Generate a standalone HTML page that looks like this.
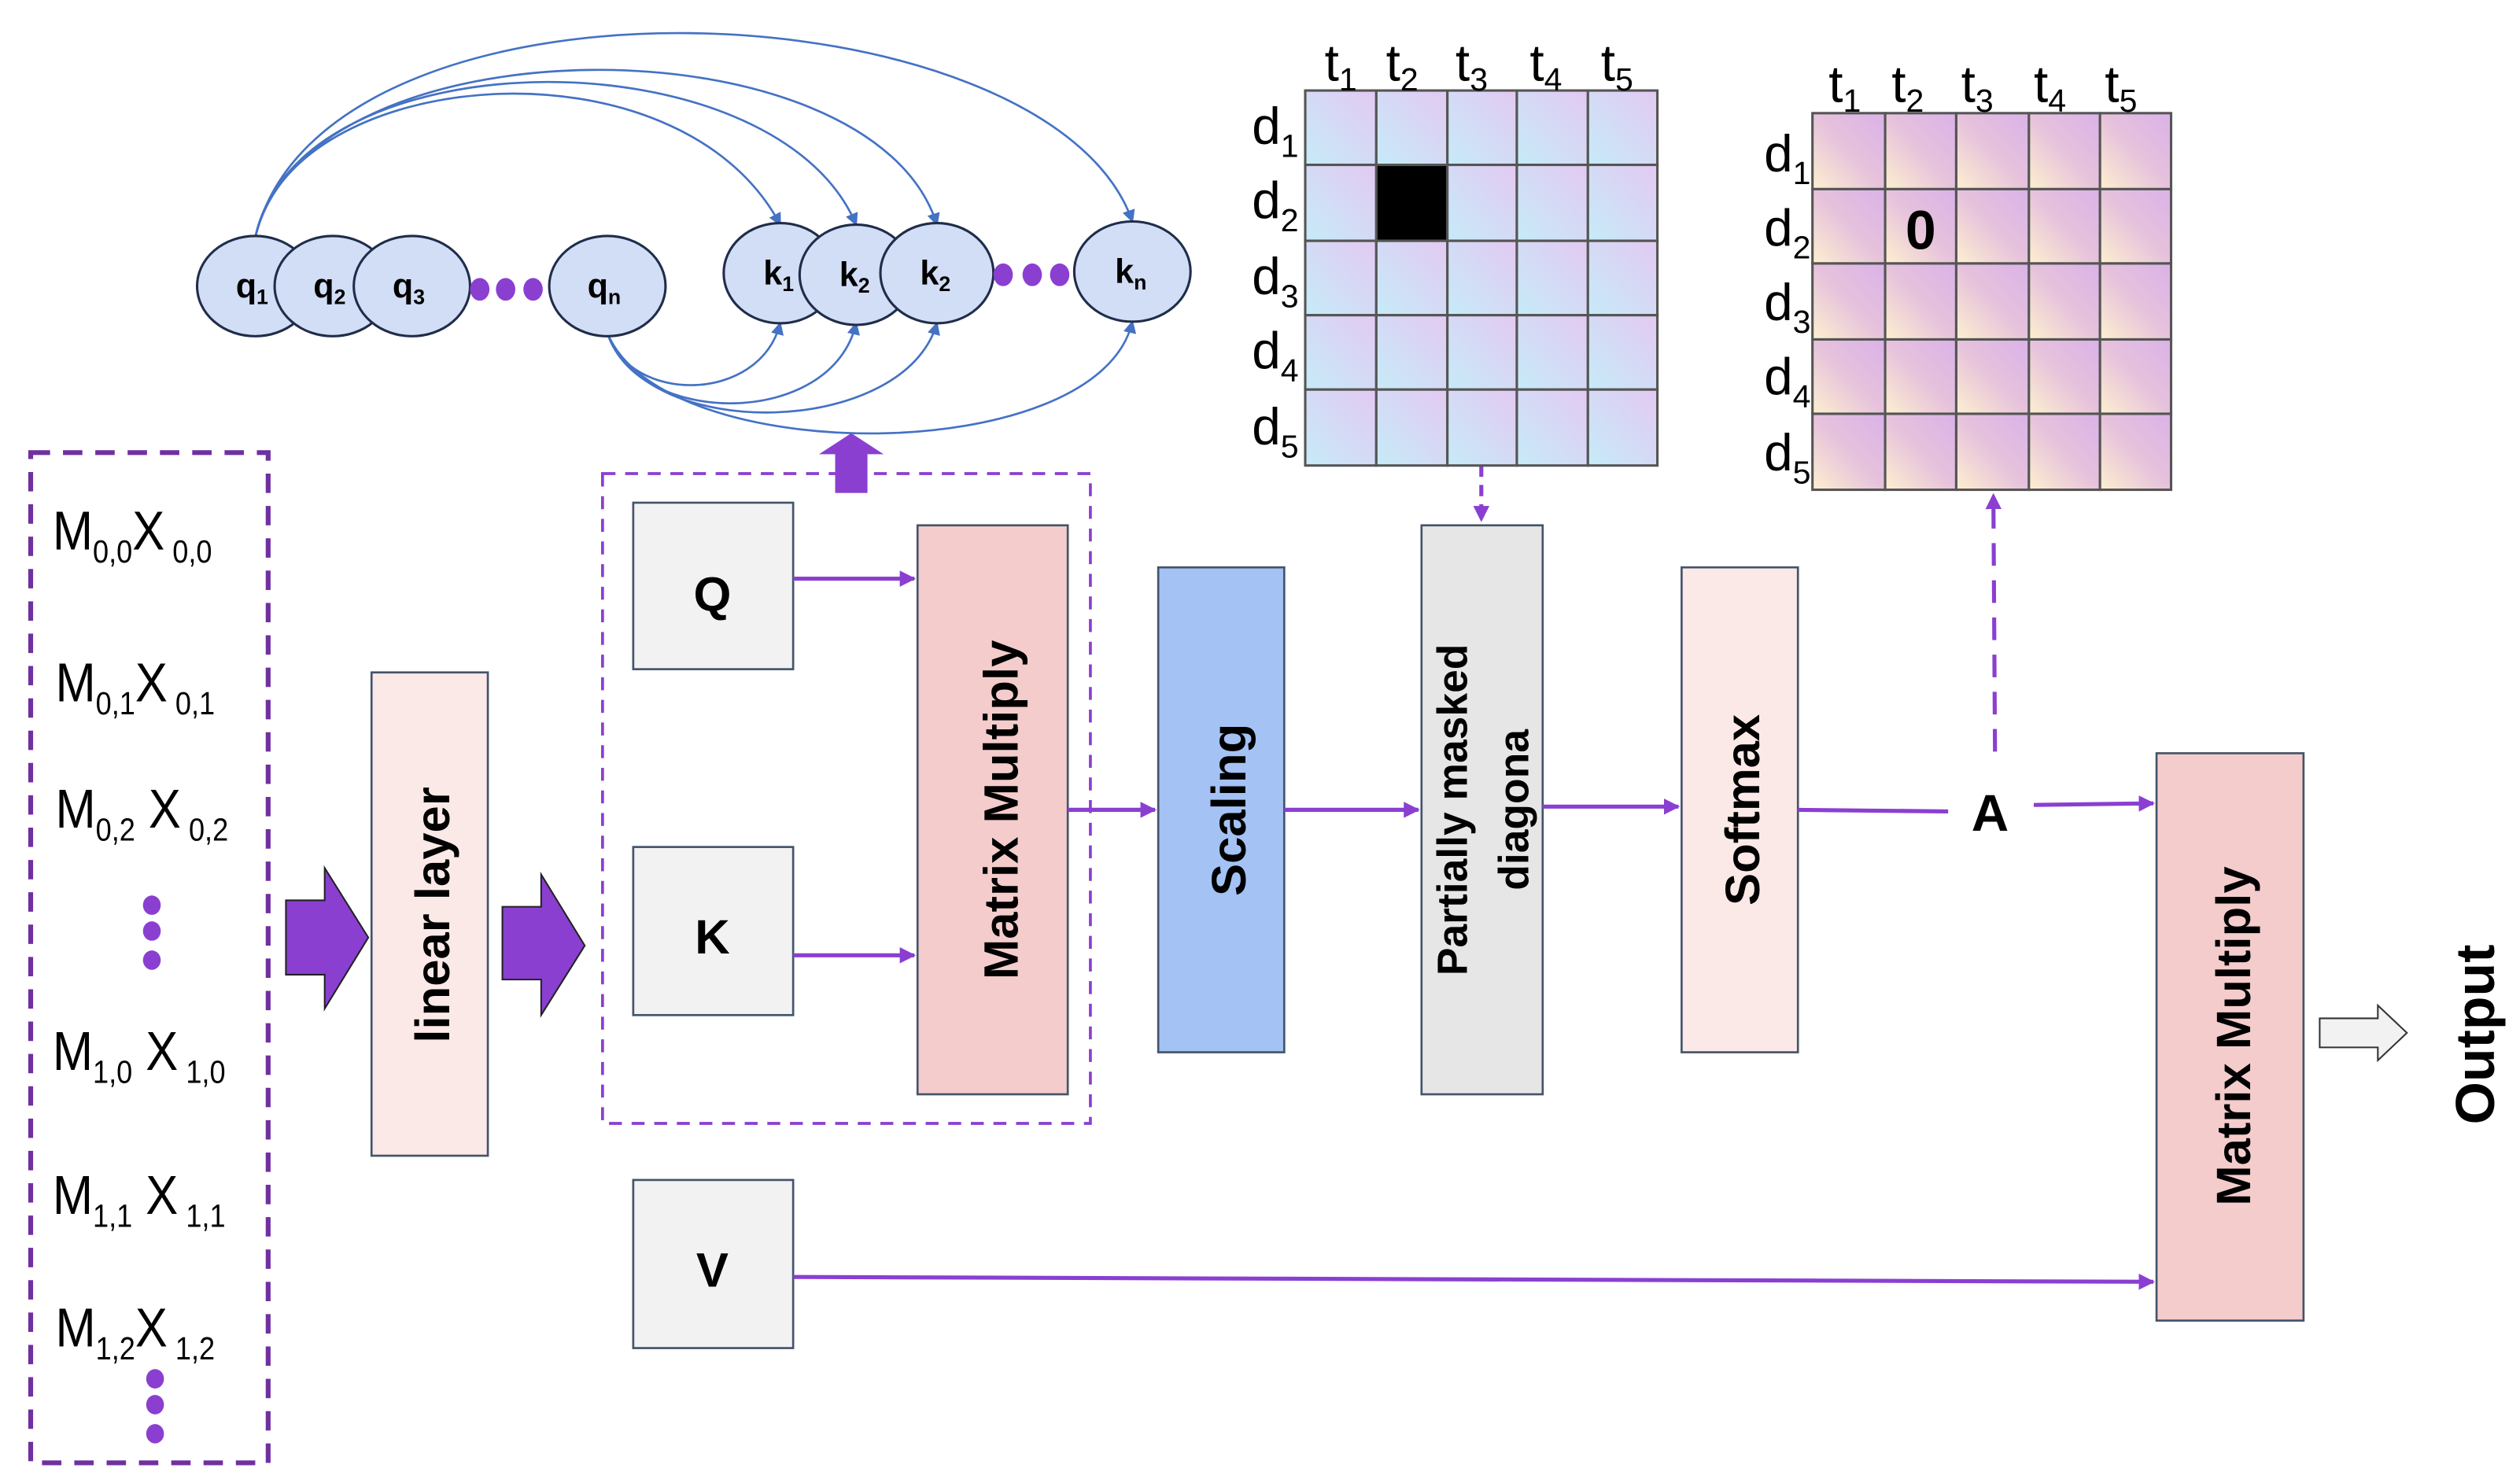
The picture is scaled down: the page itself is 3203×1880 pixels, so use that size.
<!DOCTYPE html>
<html><head><meta charset="utf-8"><style>html,body{margin:0;padding:0;background:#fff}svg{display:block}</style></head>
<body>
<svg width="3203" height="1880" viewBox="0 0 1560 915" preserveAspectRatio="none" xmlns="http://www.w3.org/2000/svg" font-family="Liberation Sans, sans-serif">
<defs>
<linearGradient id="g1" x1="0" y1="1" x2="1" y2="0"><stop offset="0" stop-color="#c6ebf8"/><stop offset="1" stop-color="#e3c9f2"/></linearGradient>
<linearGradient id="g2" x1="0" y1="1" x2="1" y2="0"><stop offset="0" stop-color="#fdf0cf"/><stop offset="0.5" stop-color="#e6c2dc"/><stop offset="1" stop-color="#dab2e8"/></linearGradient>
<marker id="ab" markerWidth="8" markerHeight="8" refX="7" refY="4" orient="auto" markerUnits="userSpaceOnUse"><path d="M0,0 L8,4 L0,8 z" fill="#4472c4"/></marker>
<marker id="ap" markerWidth="10" markerHeight="10" refX="9" refY="5" orient="auto" markerUnits="userSpaceOnUse"><path d="M0,0 L10,5 L0,10 z" fill="#8a3fd1"/></marker>
</defs>

<g fill="none" stroke="#4472c4" stroke-width="1.3">
<path d="M158,147 C180,40 420,20 483,139" marker-end="url(#ab)"/>
<path d="M158,147 C185,20 480,20 530,139" marker-end="url(#ab)"/>
<path d="M158,147 C190,10 540,10 580,139" marker-end="url(#ab)"/>
<path d="M158,147 C200,-30 650,-10 701,137" marker-end="url(#ab)"/>
<path d="M376,206 C390,250 470,250 483,200" marker-end="url(#ab)"/>
<path d="M376,206 C395,265 515,265 530,200" marker-end="url(#ab)"/>
<path d="M376,206 C400,275 560,270 580,200" marker-end="url(#ab)"/>
<path d="M376,206 C410,290 680,290 701,199" marker-end="url(#ab)"/>
</g>
<g fill="#d2ddf6" stroke="#1f2d4a" stroke-width="1.5">
<ellipse cx="158" cy="177" rx="36" ry="31"/>
<ellipse cx="206" cy="177" rx="36" ry="31"/>
<ellipse cx="255" cy="177" rx="36" ry="31"/>
<ellipse cx="376" cy="177" rx="36" ry="31"/>
<ellipse cx="483" cy="169" rx="35" ry="31"/>
<ellipse cx="530" cy="170" rx="35" ry="31"/>
<ellipse cx="580" cy="169" rx="35" ry="31"/>
<ellipse cx="701" cy="168" rx="36" ry="31"/>
</g>
<g fill="#8a3fd1">
<ellipse cx="297" cy="179" rx="6" ry="7"/><ellipse cx="313" cy="179" rx="6" ry="7"/><ellipse cx="330" cy="179" rx="6" ry="7"/>
<ellipse cx="621" cy="170" rx="6" ry="7"/><ellipse cx="639" cy="170" rx="6" ry="7"/><ellipse cx="656" cy="170" rx="6" ry="7"/>
</g>
<g font-weight="bold" font-size="21" text-anchor="middle" fill="#000">
<text x="156" y="184">q<tspan font-size="13" dy="4">1</tspan></text>
<text x="204" y="184">q<tspan font-size="13" dy="4">2</tspan></text>
<text x="253" y="184">q<tspan font-size="13" dy="4">3</tspan></text>
<text x="374" y="184">q<tspan font-size="13" dy="4">n</tspan></text>
<text x="482" y="176">k<tspan font-size="13" dy="4">1</tspan></text>
<text x="529" y="177">k<tspan font-size="13" dy="4">2</tspan></text>
<text x="579" y="176">k<tspan font-size="13" dy="4">2</tspan></text>
<text x="700" y="175">k<tspan font-size="13" dy="4">n</tspan></text>
</g>

<path d="M517,305 L517,281 L507,281 L527,268 L547,281 L537,281 L537,305 z" fill="#8a3fd1"/>

<rect x="19" y="280" width="147" height="625" fill="none" stroke="#7030a0" stroke-width="3" stroke-dasharray="12,8"/>
<rect x="373" y="293" width="302" height="402" fill="none" stroke="#8a3fd1" stroke-width="1.8" stroke-dasharray="8,6"/>

<g font-size="34" fill="#000" transform="scale(0.88,1)">
<text x="37" y="340">M<tspan font-size="20" dy="8">0,0</tspan><tspan dy="-8">X</tspan><tspan font-size="20" dy="8"> 0,0</tspan></text>
<text x="39" y="434">M<tspan font-size="20" dy="8">0,1</tspan><tspan dy="-8">X</tspan><tspan font-size="20" dy="8"> 0,1</tspan></text>
<text x="39" y="512">M<tspan font-size="20" dy="8">0,2</tspan><tspan dy="-8"> X</tspan><tspan font-size="20" dy="8"> 0,2</tspan></text>
<text x="37" y="662">M<tspan font-size="20" dy="8">1,0</tspan><tspan dy="-8"> X</tspan><tspan font-size="20" dy="8"> 1,0</tspan></text>
<text x="37" y="751">M<tspan font-size="20" dy="8">1,1</tspan><tspan dy="-8"> X</tspan><tspan font-size="20" dy="8"> 1,1</tspan></text>
<text x="39" y="833">M<tspan font-size="20" dy="8">1,2</tspan><tspan dy="-8">X</tspan><tspan font-size="20" dy="8"> 1,2</tspan></text>
</g>
<g fill="#8a3fd1">
<ellipse cx="94" cy="560" rx="5.5" ry="6"/><ellipse cx="94" cy="576" rx="5.5" ry="6"/><ellipse cx="94" cy="594" rx="5.5" ry="6"/>
<ellipse cx="96" cy="853" rx="5.5" ry="6"/><ellipse cx="96" cy="869" rx="5.5" ry="6"/><ellipse cx="96" cy="887" rx="5.5" ry="6"/>
</g>

<g fill="#8a3fd1" stroke="#222" stroke-width="1">
<path d="M177,557 L201,557 L201,537 L228,580 L201,624 L201,603 L177,603 z"/>
<path d="M311,561 L335,561 L335,541 L362,585 L335,628 L335,606 L311,606 z"/>
</g>

<g stroke="#44546a" stroke-width="1.3">
<rect x="230" y="416" width="72" height="299" fill="#fbe9e7"/>
<rect x="392" y="311" width="99" height="103" fill="#f2f2f2"/>
<rect x="392" y="524" width="99" height="104" fill="#f2f2f2"/>
<rect x="392" y="730" width="99" height="104" fill="#f2f2f2"/>
<rect x="568" y="325" width="93" height="352" fill="#f4cccc"/>
<rect x="717" y="351" width="78" height="300" fill="#a4c2f4"/>
<rect x="880" y="325" width="75" height="352" fill="#e6e6e6"/>
<rect x="1041" y="351" width="72" height="300" fill="#fbe9e7"/>
<rect x="1335" y="466" width="91" height="351" fill="#f4cccc"/>
</g>
<g font-weight="bold" fill="#000" text-anchor="middle">
<text x="441" y="378" font-size="30">Q</text>
<text x="441" y="590" font-size="30">K</text>
<text x="441" y="796" font-size="30">V</text>
<text transform="translate(278,566) rotate(-90)" font-size="30">linear layer</text>
<text transform="translate(630,501) rotate(-90)" font-size="30">Matrix Multiply</text>
<text transform="translate(771,501) rotate(-90)" font-size="30">Scaling</text>
<text transform="translate(908,501) rotate(-90)" font-size="26">Partially masked</text>
<text transform="translate(946,501) rotate(-90)" font-size="26">diagona</text>
<text transform="translate(1089,501) rotate(-90)" font-size="30">Softmax</text>
<text transform="translate(1393,641) rotate(-90)" font-size="30">Matrix Multiply</text>
<text transform="translate(1544,640) rotate(-90)" font-size="34">Output</text>
<text x="1232" y="514" font-size="32">A</text>
</g>

<g stroke="#8a3fd1" stroke-width="2.5" fill="none">
<path d="M491,358 L566,358" marker-end="url(#ap)"/>
<path d="M491,591 L566,591" marker-end="url(#ap)"/>
<path d="M661,501 L715,501" marker-end="url(#ap)"/>
<path d="M795,501 L878,501" marker-end="url(#ap)"/>
<path d="M955,499 L1039,499" marker-end="url(#ap)"/>
<path d="M1113,501 L1206,502"/>
<path d="M1259,498 L1333,497" marker-end="url(#ap)"/>
<path d="M491,790 L1333,793" marker-end="url(#ap)"/>
<path d="M917,288 L917,322" stroke-dasharray="7,5" marker-end="url(#ap)"/>
<path d="M1235,465 L1234,306" stroke-dasharray="14,9" marker-end="url(#ap)"/>
</g>

<path d="M1436,630 L1472,630 L1472,622 L1490,639 L1472,656 L1472,648 L1436,648 z" fill="#f2f2f2" stroke="#333" stroke-width="1"/>

<!-- grid 1 cells -->
<g stroke="#555" stroke-width="1.5" fill="url(#g1)">
<rect x="808" y="56" width="44" height="46"/><rect x="852" y="56" width="44" height="46"/><rect x="896" y="56" width="43" height="46"/><rect x="939" y="56" width="44" height="46"/><rect x="983" y="56" width="43" height="46"/>
<rect x="808" y="102" width="44" height="47"/><rect x="852" y="102" width="44" height="47" fill="#000"/><rect x="896" y="102" width="43" height="47"/><rect x="939" y="102" width="44" height="47"/><rect x="983" y="102" width="43" height="47"/>
<rect x="808" y="149" width="44" height="46"/><rect x="852" y="149" width="44" height="46"/><rect x="896" y="149" width="43" height="46"/><rect x="939" y="149" width="44" height="46"/><rect x="983" y="149" width="43" height="46"/>
<rect x="808" y="195" width="44" height="46"/><rect x="852" y="195" width="44" height="46"/><rect x="896" y="195" width="43" height="46"/><rect x="939" y="195" width="44" height="46"/><rect x="983" y="195" width="43" height="46"/>
<rect x="808" y="241" width="44" height="47"/><rect x="852" y="241" width="44" height="47"/><rect x="896" y="241" width="43" height="47"/><rect x="939" y="241" width="44" height="47"/><rect x="983" y="241" width="43" height="47"/>
</g>
<!-- grid 2 cells -->
<g stroke="#555" stroke-width="1.5" fill="url(#g2)">
<rect x="1122" y="70" width="45" height="47"/><rect x="1167" y="70" width="44" height="47"/><rect x="1211" y="70" width="45" height="47"/><rect x="1256" y="70" width="44" height="47"/><rect x="1300" y="70" width="44" height="47"/>
<rect x="1122" y="117" width="45" height="46"/><rect x="1167" y="117" width="44" height="46"/><rect x="1211" y="117" width="45" height="46"/><rect x="1256" y="117" width="44" height="46"/><rect x="1300" y="117" width="44" height="46"/>
<rect x="1122" y="163" width="45" height="47"/><rect x="1167" y="163" width="44" height="47"/><rect x="1211" y="163" width="45" height="47"/><rect x="1256" y="163" width="44" height="47"/><rect x="1300" y="163" width="44" height="47"/>
<rect x="1122" y="210" width="45" height="46"/><rect x="1167" y="210" width="44" height="46"/><rect x="1211" y="210" width="45" height="46"/><rect x="1256" y="210" width="44" height="46"/><rect x="1300" y="210" width="44" height="46"/>
<rect x="1122" y="256" width="45" height="47"/><rect x="1167" y="256" width="44" height="47"/><rect x="1211" y="256" width="45" height="47"/><rect x="1256" y="256" width="44" height="47"/><rect x="1300" y="256" width="44" height="47"/>
</g>
<text x="1189" y="154" font-weight="bold" font-size="34" text-anchor="middle">0</text>

<g font-size="32" fill="#000">
<text x="820" y="50">t<tspan font-size="20" dy="6">1</tspan></text>
<text x="858" y="50">t<tspan font-size="20" dy="6">2</tspan></text>
<text x="901" y="50">t<tspan font-size="20" dy="6">3</tspan></text>
<text x="947" y="50">t<tspan font-size="20" dy="6">4</tspan></text>
<text x="991" y="50">t<tspan font-size="20" dy="6">5</tspan></text>
<text x="775" y="89">d<tspan font-size="20" dy="8">1</tspan></text>
<text x="775" y="135">d<tspan font-size="20" dy="8">2</tspan></text>
<text x="775" y="182">d<tspan font-size="20" dy="8">3</tspan></text>
<text x="775" y="228">d<tspan font-size="20" dy="8">4</tspan></text>
<text x="775" y="275">d<tspan font-size="20" dy="8">5</tspan></text>
<text x="1132" y="63">t<tspan font-size="20" dy="6">1</tspan></text>
<text x="1171" y="63">t<tspan font-size="20" dy="6">2</tspan></text>
<text x="1214" y="63">t<tspan font-size="20" dy="6">3</tspan></text>
<text x="1259" y="63">t<tspan font-size="20" dy="6">4</tspan></text>
<text x="1303" y="63">t<tspan font-size="20" dy="6">5</tspan></text>
<text x="1092" y="106">d<tspan font-size="20" dy="8">1</tspan></text>
<text x="1092" y="152">d<tspan font-size="20" dy="8">2</tspan></text>
<text x="1092" y="198">d<tspan font-size="20" dy="8">3</tspan></text>
<text x="1092" y="244">d<tspan font-size="20" dy="8">4</tspan></text>
<text x="1092" y="291">d<tspan font-size="20" dy="8">5</tspan></text>
</g>
</svg>
</body></html>
